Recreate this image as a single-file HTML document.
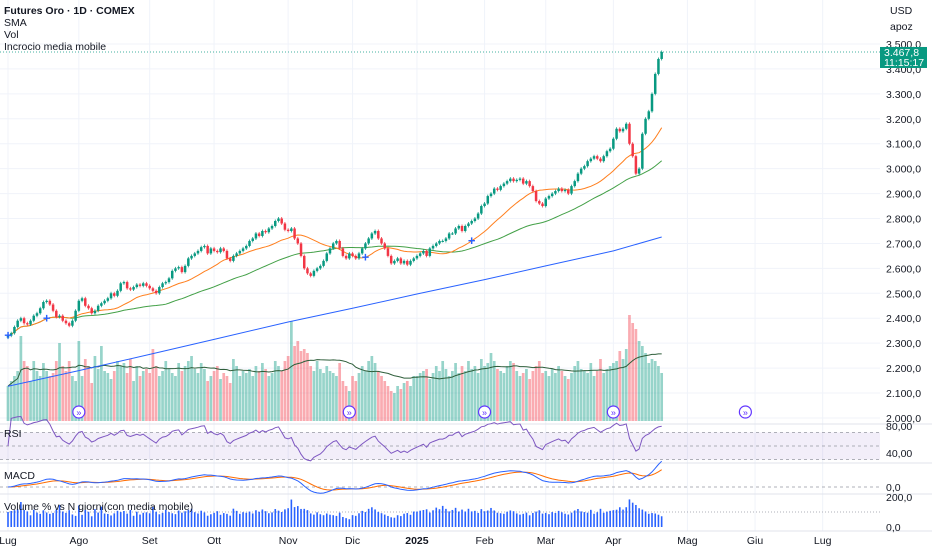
<!DOCTYPE html>
<html><head><meta charset="utf-8">
<style>
html,body{margin:0;padding:0;background:#fff;}
svg{display:block;font-family:"Liberation Sans",sans-serif;}
</style></head>
<body>
<svg id="chart" width="932" height="550" viewBox="0 0 932 550">
  <g id="grid"></g>
  <g id="vol"></g>
  <g id="lines"></g>
  <g id="candles"></g>
  <g id="panes"></g>
  <g id="axes"></g>
  <g font-size="10.5" fill="#131722">
    <text x="4" y="14" font-weight="bold">Futures Oro · 1D · COMEX</text>
    <text x="4" y="26">SMA</text>
    <text x="4" y="38">Vol</text>
    <text x="4" y="50">Incrocio media mobile</text>
    <text x="4" y="437">RSI</text>
    <text x="4" y="479">MACD</text>
    <text x="4" y="510">Volume % vs N giorni(con media mobile)</text>
    <text x="890" y="14">USD</text>
    <text x="890" y="30">apoz</text>
  </g>
</svg>
<script>
const closes = [
2330,2340,2365,2390,2400,2380,2375,2390,2410,2420,2440,2465,2470,2455,2430,2405,2410,2390,2380,2370,2390,2430,
2470,2480,2450,2440,2420,2430,2450,2460,2470,2480,2500,2490,2510,2540,2545,2520,2515,2525,2535,2530,2540,2530,
2520,2510,2500,2525,2540,2545,2560,2590,2600,2605,2585,2610,2640,2650,2660,2670,2685,2690,2660,2680,
2670,2665,2680,2670,2640,2630,2650,2660,2670,2680,2690,2710,2720,2740,2730,2750,2745,2760,2770,2790,2800,2780,2755,
2750,2760,2720,2700,2650,2600,2580,2570,2590,2600,2610,2630,2660,2680,2700,2710,2680,2650,2640,2660,
2650,2640,2660,2680,2700,2720,2740,2750,2720,2700,2680,2650,2620,2630,2640,2620,2630,2615,2630,2640,
2650,2660,2670,2650,2680,2690,2700,2710,2710,2720,2740,2740,2760,2770,2750,2770,2780,2790,2800,2820,2850,
2860,2890,2900,2920,2915,2930,2940,2950,2960,2950,2955,2960,2940,2950,2930,2910,2870,2860,2850,
2880,2890,2900,2910,2920,2910,2915,2900,2930,2950,2980,3000,3010,3030,3040,3050,3040,3030,3050,3070,3080,
3120,3160,3150,3160,3180,3100,3050,2980,3000,3140,3200,3230,3300,3380,3440,3468];
const volumes = [
35,40,45,50,85,60,55,40,60,50,45,58,50,45,48,60,78,55,50,60,45,40,
80,45,62,55,38,65,52,75,50,48,42,50,60,55,58,48,62,40,55,45,50,52,
48,72,55,45,50,60,52,48,45,58,50,55,60,65,52,48,58,52,40,45,
50,55,42,48,45,38,62,55,45,50,48,52,45,55,50,58,52,45,48,60,55,50,60,
65,100,75,80,70,72,68,55,50,60,52,48,55,50,48,45,58,40,35,30,
45,40,48,55,50,60,65,58,50,45,40,35,30,28,35,32,38,40,35,45,
45,48,50,52,42,48,55,50,60,52,45,50,58,48,55,50,60,52,55,48,62,
55,58,68,60,52,50,48,55,60,58,50,45,48,52,42,50,55,60,48,
50,45,52,48,55,50,45,42,48,55,60,52,50,48,58,45,50,62,48,52,55,
58,60,70,62,72,106,98,92,80,75,68,58,62,60,55,48];
const sma200Idx = [0,22,44,64,87,107,127,148,167,188,203];
const sma200Val = [2127,2190,2255,2315,2385,2440,2497,2555,2610,2670,2726];
const monthLabels = ["Lug","Ago","Set","Ott","Nov","Dic","2025","Feb","Mar","Apr","Mag","Giu","Lug"];
const monthIdx = [0,22,44,64,87,107,127,148,167,188,211,232,253];
const priceTicks = [2000,2100,2200,2300,2400,2500,2600,2700,2800,2900,3000,3100,3200,3300,3400,3500];
const crossIdx = [0,12,111,144];
const eventIdx = [22,106,148,188,229];

const NS="http://www.w3.org/2000/svg";
function mk(parent,tag,attrs){const e=document.createElementNS(NS,tag);for(const k in attrs)e.setAttribute(k,attrs[k]);parent.appendChild(e);return e;}
const X=i=>8+i*3.22;
const Y=p=>44+(3500-p)*0.2493;
const VY=v=>421-v;
const RY=r=>446-(r-50)*0.675;
const MY=m=>487-m*0.25;
const PY=p=>527-p*0.15;
const fmt=n=>{const s=String(n);return s.length>3?s.slice(0,s.length-3)+"."+s.slice(-3)+",0":s+",0";};

const grid=document.getElementById('grid');
priceTicks.forEach(p=>{const l=mk(grid,'line',{x1:0,x2:880,y1:Y(p),y2:Y(p),stroke:'#f0f3fa','stroke-width':1});

});
monthIdx.forEach(i=>{const l=mk(grid,'line',{x1:X(i),x2:X(i),y1:0,y2:531,stroke:'#f0f3fa','stroke-width':1});

});
[424,463,494,531].forEach(y=>{const l=mk(grid,'line',{x1:0,x2:932,y1:y,y2:y,stroke:'#e0e3eb','stroke-width':1});

});

const vg=document.getElementById('vol');
const n=closes.length;
for(let i=0;i<n;i++){
  const up=i===0||closes[i]>=closes[i-1];
  const r=mk(vg,'rect',{x:X(i)-1.35,y:VY(volumes[i]),width:2.7,height:volumes[i],fill:up?'rgba(8,153,129,0.42)':'rgba(242,54,69,0.42)'});
  
  
}
function sma(arr,w){return arr.map((_,i)=>{const s=Math.max(0,i-w+1);let t=0;for(let k=s;k<=i;k++)t+=arr[k];return t/(i-s+1);});}
function ema(arr,w){const a=2/(w+1);const o=[];arr.forEach((v,i)=>o.push(i?o[i-1]+a*(v-o[i-1]):v));return o;}
function poly(g,pts,color,name,w){const p=mk(g,'polyline',{points:pts.map(q=>q[0].toFixed(1)+','+q[1].toFixed(1)).join(' '),fill:'none',stroke:color,'stroke-width':w||1});

return p;}
const volMA=sma(volumes,20);
poly(vg,volMA.map((v,i)=>[X(i),VY(v)]),'#2e5e3a','volume-ma-line',1);

const lg=document.getElementById('lines');
const s20=sma(closes,20), s50=sma(closes,50);
poly(lg,sma200Idx.map((i,k)=>[X(i),Y(sma200Val[k])]),'#2962ff','sma200-line',1);
poly(lg,s50.map((v,i)=>[X(i),Y(v)]),'#43a047','sma50-line',1);
poly(lg,s20.map((v,i)=>[X(i),Y(v)]),'#ff7f1e','sma20-line',1);

const cg=document.getElementById('candles');
for(let i=0;i<n;i++){
  const o=i?closes[i-1]:closes[i]-8, c=closes[i];
  const up=c>=o, col=up?'#089981':'#f23645';
  const hi=Math.max(o,c)+6, lo=Math.min(o,c)-6;
  const w=mk(cg,'line',{x1:X(i),x2:X(i),y1:Y(hi),y2:Y(lo),stroke:col,'stroke-width':0.8});
  
  
  const b=mk(cg,'rect',{x:X(i)-1.25,y:Y(Math.max(o,c)),width:2.5,height:Math.max(1,Math.abs(o-c)*0.2493),fill:col});
  
  
}
crossIdx.forEach(i=>{const t=mk(cg,'text',{x:X(i),y:Y(s20[i])+4,'text-anchor':'middle','font-size':13,'font-weight':'bold',fill:'#2962ff'});t.textContent='+';

});
eventIdx.forEach(i=>{const g=mk(cg,'g',{});


mk(g,'circle',{cx:X(i),cy:412,r:6,fill:'#fff',stroke:'#6236ff','stroke-width':1.2});
const t=mk(g,'text',{x:X(i),y:415.5,'text-anchor':'middle','font-size':9,fill:'#6236ff'});t.textContent='»';});

const lp=closes[n-1];
const ll=mk(cg,'line',{x1:0,x2:880,y1:Y(lp),y2:Y(lp),stroke:'#089981','stroke-width':0.8,'stroke-dasharray':'1 2'});



const pg=document.getElementById('panes');
const bd=mk(pg,'rect',{x:0,y:RY(70),width:880,height:RY(30)-RY(70),fill:'rgba(126,87,194,0.1)'});


[70,50,30].forEach(v=>{const l=mk(pg,'line',{x1:0,x2:880,y1:RY(v),y2:RY(v),stroke:'#9598a1','stroke-width':0.8,'stroke-dasharray':'3 3'});

});
const rsi=[];let ag=0,al=0;
for(let i=0;i<n;i++){if(i===0){rsi.push(50);continue;}const d=closes[i]-closes[i-1];const g=Math.max(d,0),l=Math.max(-d,0);
 if(i===1){ag=g||1;al=l||1;}else{ag=(ag*13+g)/14;al=(al*13+l)/14;}rsi.push(100-100/(1+ag/(al||1e-6)));}
poly(pg,rsi.map((v,i)=>[X(i),RY(v)]),'#7e57c2','rsi-line',1);
const zl=mk(pg,'line',{x1:0,x2:880,y1:MY(0),y2:MY(0),stroke:'#9598a1','stroke-width':0.8,'stroke-dasharray':'3 3'});


const e12=ema(closes,12),e26=ema(closes,26);
const macd=e12.map((v,i)=>v-e26[i]);const sig=ema(macd,9);
poly(pg,sig.map((v,i)=>[X(i),MY(v)]),'#ff6d00','macd-signal-line',1);
poly(pg,macd.map((v,i)=>[X(i),MY(v)]),'#2962ff','macd-line',1);
const hl=mk(pg,'line',{x1:0,x2:880,y1:PY(100),y2:PY(100),stroke:'#9598a1','stroke-width':0.8,'stroke-dasharray':'1 2'});


for(let i=0;i<n;i++){const p=volumes[i]/volMA[i]*100;
 const r=mk(pg,'rect',{x:X(i)-0.8,y:PY(p),width:1.6,height:p*0.15,fill:'#2962ff'});
 
 }

const ax=document.getElementById('axes');
priceTicks.forEach(p=>{const t=mk(ax,'text',{x:886,y:Y(p)+4,'font-size':10.5,fill:'#131722'});t.textContent=fmt(p);

});
[["80,00",RY(80)],["40,00",RY(40)],["0,0",MY(0)],["200,0",PY(200)],["0,0",PY(0)]].forEach(([s,y])=>{const t=mk(ax,'text',{x:886,y:y+4,'font-size':10.5,fill:'#131722'});t.textContent=s;

});
monthLabels.forEach((m,k)=>{const t=mk(ax,'text',{x:X(monthIdx[k]),y:544,'text-anchor':'middle','font-size':10.5,fill:'#131722','font-weight':m==="2025"?'bold':'normal'});t.textContent=m;

});
const box=mk(ax,'g',{});


mk(box,'rect',{x:880,y:Y(lp)-5,width:47,height:21,fill:'#089981'});
const t1=mk(box,'text',{x:884,y:Y(lp)+4,'font-size':10.5,fill:'#fff'});t1.textContent='3.467,8';
const t2=mk(box,'text',{x:884,y:Y(lp)+14,'font-size':10.5,fill:'#fff'});t2.textContent='11:15:17';
</script>
</body></html>
